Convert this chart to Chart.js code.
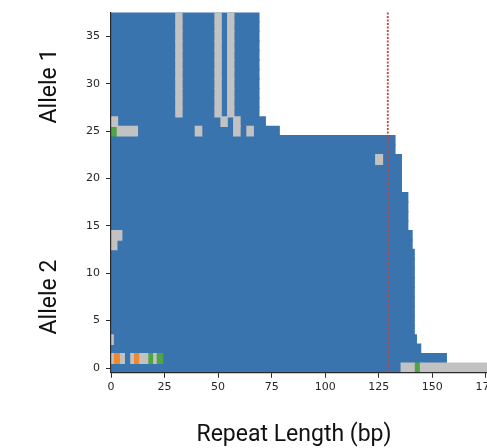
<!DOCTYPE html>
<html>
<head>
<meta charset="utf-8">
<script src="https://cdn.jsdelivr.net/npm/chart.js@4.4.1/dist/chart.umd.min.js"></script>
<style>
  html, body { margin: 0; padding: 0; background: #fff; overflow: hidden; width: 487px; height: 448px; }
  #wrap { position: absolute; left: 0; top: 0; width: 540px; height: 448px; }
</style>
</head>
<body>
<div id="wrap"><canvas id="c" width="540" height="448"></canvas></div>
<script>
// ---- data (bp positions) ----
const rowIndex = [0,1,2,3,4,5,6,7,8,9,10,11,12,13,14,15,16,17,18,19,20,21,22,23,24,25,26,27,28,29,30,31,32,33,34,35,36,37];
// length of the blue (main motif) bar in each row
const blueLength = [135.5,156.5,144.5,142.5,141.5,141.5,141.5,141.5,141.5,141.5,141.5,141.5,141.5,140.5,140.5,138.5,138.5,138.5,138.5,135.5,135.5,135.5,135.5,132.5,132.5,78.5,72,69,69,69,69,69,69,69,69,69,69,69];
// [firstRow, lastRow, startBp, endBp]
const greySegments = [
  [0,0,135.5,141.5],[0,0,144.5,200],
  [1,1,0,1],[1,1,4.5,6.2],[1,1,9.3,10.4],[1,1,13.5,17.1],[1,1,20,21],
  [3,3,0,1],
  [13,13,0,2.7],[14,14,0,5],
  [22,22,123.6,126.7],
  [25,25,3,12.3],[25,25,39.4,42.3],[25,25,57.3,60.2],[25,25,63.5,66.4],
  [26,26,0,3],[26,26,51.4,54.2],[26,26,57.3,60.2],
  [27,37,30.3,33.1],[27,37,48.6,51.4],[27,37,54.5,57.3]
];
const orangeSegments = [[1,1,1,4.5],[1,1,10.4,13.5]];
const greenSegments = [[0,0,141.5,144.5],[1,1,17.1,20],[1,1,21,24.1],[25,25,0,3]];
const thresholdBp = 129.2;
const xTickValues = [0,25,50,75,100,125,150,175];
const yTickValues = [0,5,10,15,20,25,30,35];
const xTitle = 'Repeat Length (bp)';
const rowGroupLabels = ['Allele 1','Allele 2'];

// ---- build datasets ----
function expand(segs) {
  const out = [];
  segs.forEach(s => { for (let r = s[0]; r <= s[1]; r++) out.push({ y: r, x: [s[2], s[3]] }); });
  return out;
}
// inflate bars slightly so neighbouring rows overlap and no anti-aliasing seams show
const common = { grouped: false, barPercentage: 1, categoryPercentage: 1, borderWidth: 0, inflateAmount: 0.7, indexAxis: 'y' };
const datasets = [
  Object.assign({ label: 'grey', data: expand(greySegments), backgroundColor: '#c2c2c2' }, common),
  Object.assign({ label: 'orange', data: expand(orangeSegments), backgroundColor: '#f0882e' }, common),
  Object.assign({ label: 'green', data: expand(greenSegments), backgroundColor: '#4ea446' }, common),
  Object.assign({ label: 'blue', data: rowIndex.map(r => ({ y: r, x: [0, blueLength[r]] })), backgroundColor: '#3a74ae' }, common)
];

const overlay = {
  id: 'overlay',
  afterDatasetsDraw(chart) {
    const { ctx, chartArea, scales } = chart;
    const px = scales.x.getPixelForValue(thresholdBp);
    ctx.save();
    ctx.strokeStyle = '#c8403a';
    ctx.lineWidth = 1.8;
    ctx.setLineDash([2, 1.5]);
    ctx.beginPath();
    ctx.moveTo(px, chartArea.top);
    ctx.lineTo(px, chartArea.bottom);
    ctx.stroke();
    ctx.restore();
  },
  afterDraw(chart) {
    const { ctx } = chart;
    ctx.save();
    ctx.fillStyle = '#111';
    ctx.font = '23px Roboto';
    ctx.textAlign = 'center';
    ctx.textBaseline = 'alphabetic';
    ctx.fillText(xTitle, 294, 441);
    const yc = [86, 297];
    rowGroupLabels.forEach((t, i) => {
      ctx.save();
      ctx.translate(56, yc[i]);
      ctx.rotate(-Math.PI / 2);
      ctx.fillText(t, 0, 0);
      ctx.restore();
    });
    ctx.restore();
  }
};

new Chart(document.getElementById('c'), {
  type: 'bar',
  data: { datasets },
  options: {
    indexAxis: 'y',
    responsive: false,
    animation: false,
    layout: { padding: { left: 0, top: 11.75, right: 43.4, bottom: 0 } },
    plugins: { legend: { display: false }, tooltip: { enabled: false } },
    scales: {
      x: {
        type: 'linear', min: 0, max: 180, stacked: false,
        afterBuildTicks: s => { s.ticks = xTickValues.map(v => ({ value: v })); },
        afterFit: s => { s.height = 75.25; },
        grid: { drawOnChartArea: false, drawTicks: true, tickLength: 5, color: '#2a2a2a', tickWidth: 1 },
        border: { display: true, color: '#2a2a2a', width: 1.2, z: 1 },
        ticks: { font: { family: 'DejaVu Sans', size: 11 }, color: '#262626', padding: 3, maxRotation: 0, autoSkip: false }
      },
      y: {
        type: 'linear', min: -0.5, max: 37.5, offset: false, stacked: false,
        afterBuildTicks: s => { s.ticks = yTickValues.map(v => ({ value: v })); },
        afterFit: s => { s.width = 111; },
        grid: { drawOnChartArea: false, drawTicks: true, tickLength: 5, color: '#2a2a2a', tickWidth: 1, offset: false },
        border: { display: true, color: '#2a2a2a', width: 1.2, z: 1 },
        ticks: { font: { family: 'DejaVu Sans', size: 11 }, color: '#262626', padding: 6, autoSkip: false }
      }
    }
  },
  plugins: [overlay]
});
</script>
</body>
</html>
